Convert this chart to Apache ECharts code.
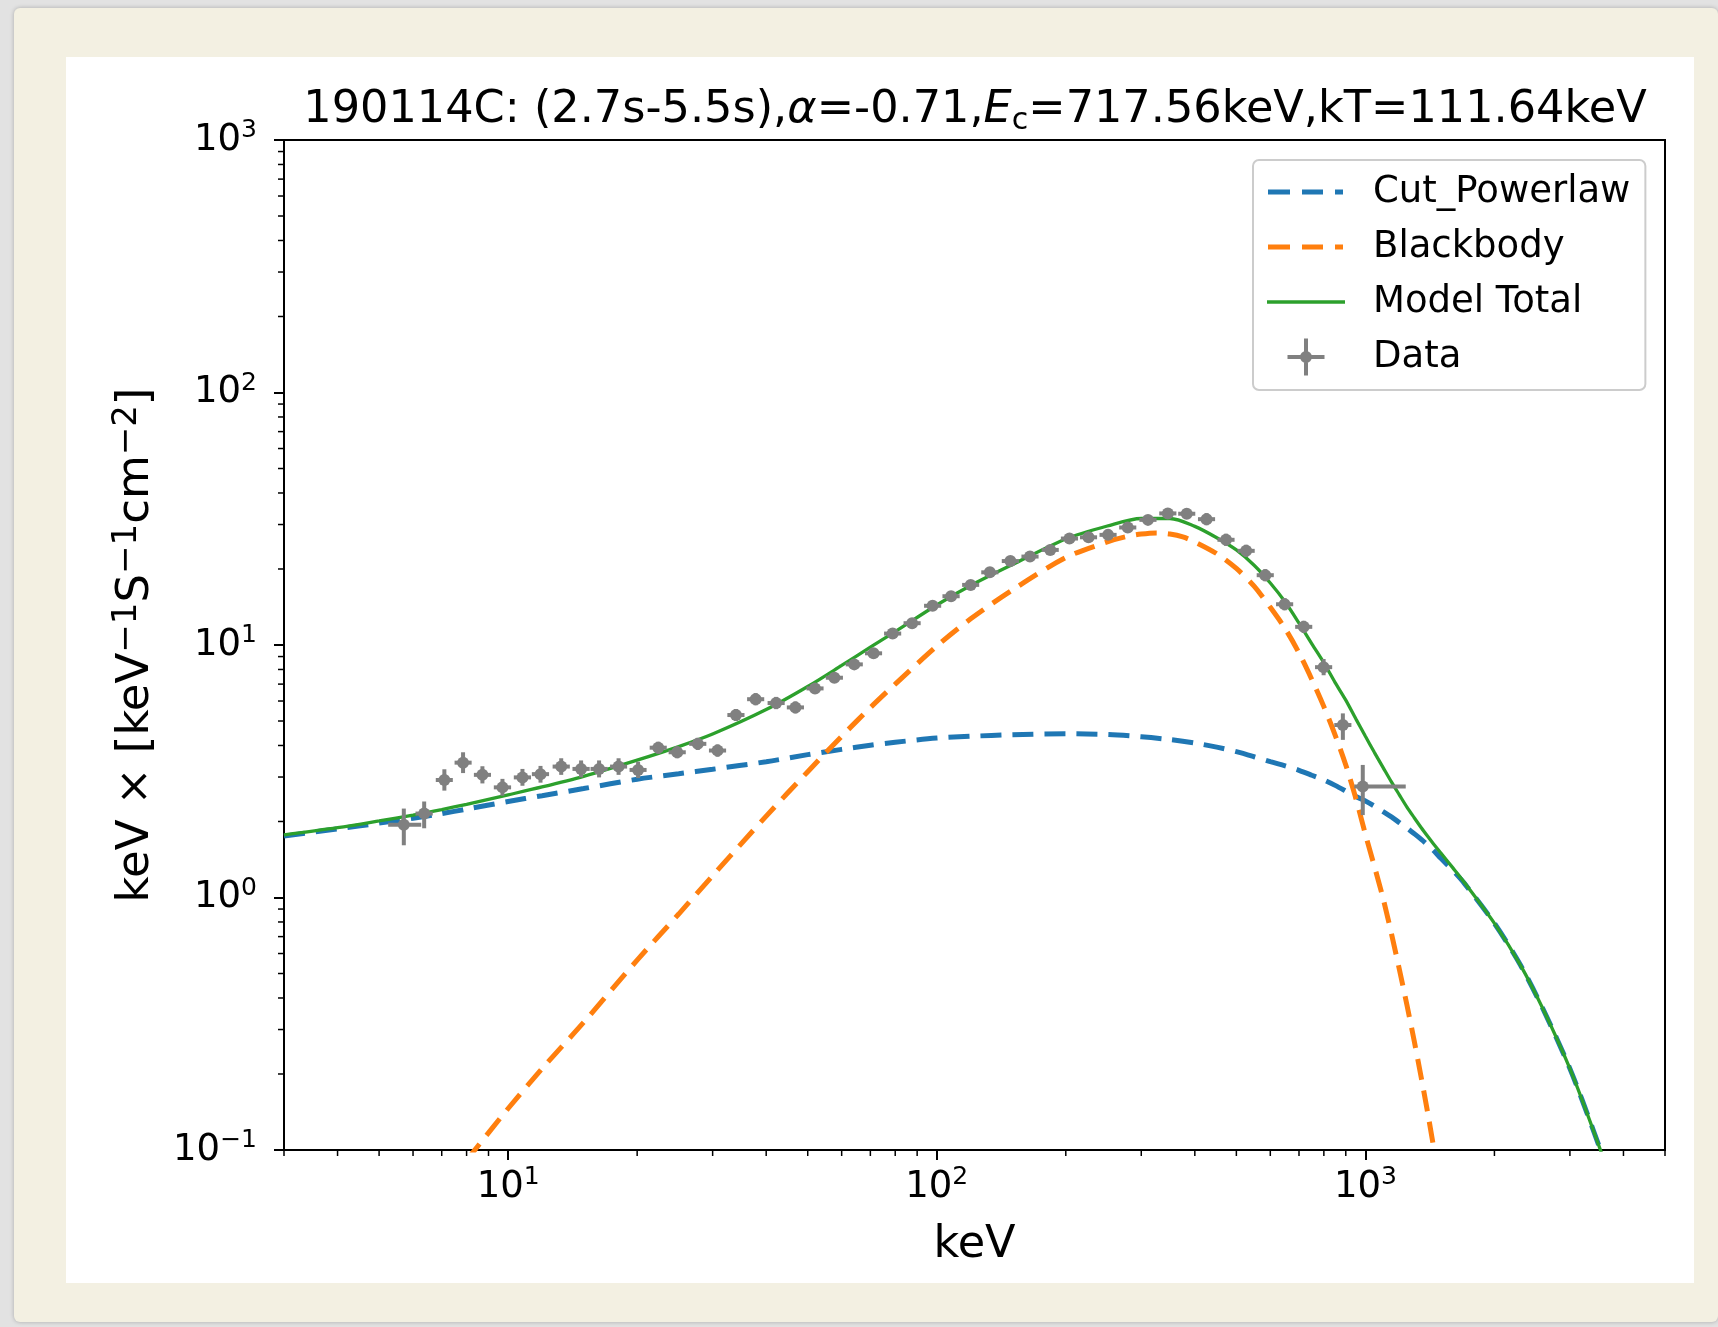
<!DOCTYPE html>
<html>
<head>
<meta charset="utf-8">
<script src="https://cdn.jsdelivr.net/npm/echarts@6/dist/echarts.min.js"></script>
<style>
html,body{margin:0;padding:0;width:1718px;height:1327px;overflow:hidden;background:#e2e2e2;}
#card{position:absolute;left:14px;top:8px;width:1704px;height:1314px;background:#f3f0e2;border-radius:6px;box-shadow:0 0 4px rgba(0,0,0,0.25);}
#panel{position:absolute;left:66px;top:57px;width:1628px;height:1226px;background:#ffffff;}
#chart{position:absolute;left:0;top:0;width:1718px;height:1327px;}
</style>
</head>
<body>
<div id="card"></div>
<div id="panel"></div>
<div id="chart"></div>
<script>
// ---- Data points (keV, keV^2 N(E)) with error ranges ----
const energy = [5.71, 6.37, 7.10, 7.85, 8.71, 9.70, 10.8, 11.9, 13.3, 14.8, 16.3, 18.1, 20.1, 22.4, 24.8, 27.7, 30.8, 34.0, 37.8, 42.2, 46.8, 52.0, 57.7, 64.2, 71.2, 78.9, 87.6, 97.8, 108, 120, 133, 148.5, 165, 184, 204, 226, 251, 279, 311, 346, 383, 426, 473, 527, 584, 648, 718, 799, 886, 986];
const flux = [1.94, 2.15, 2.92, 3.42, 3.06, 2.73, 2.99, 3.08, 3.30, 3.23, 3.23, 3.30, 3.20, 3.92, 3.76, 4.06, 3.82, 5.28, 6.10, 5.89, 5.66, 6.73, 7.42, 8.38, 9.27, 11.1, 12.2, 14.3, 15.6, 17.3, 19.4, 21.5, 22.4, 23.8, 26.4, 26.7, 27.3, 29.2, 31.3, 33.2, 33.1, 31.5, 26.1, 23.6, 18.9, 14.5, 11.8, 8.17, 4.82, 2.75];
const energyLo = [5.25, 6.08, 6.78, 7.50, 8.32, 9.26, 10.31, 11.36, 12.70, 14.13, 15.57, 17.29, 19.20, 21.39, 23.68, 26.45, 29.41, 32.47, 36.10, 40.30, 44.69, 49.66, 55.10, 61.31, 68.00, 75.35, 83.66, 93.40, 103.1, 114.6, 127.0, 141.8, 157.6, 175.7, 194.8, 215.8, 239.7, 266.4, 297.0, 330.4, 365.8, 406.8, 451.7, 503.3, 557.7, 618.8, 685.7, 763.0, 846.1, 942];
const energyHi = [6.27, 6.67, 7.43, 8.22, 9.12, 10.16, 11.31, 12.46, 13.93, 15.50, 17.07, 18.95, 21.04, 23.45, 25.97, 29.00, 32.25, 35.60, 39.58, 44.18, 49.00, 54.44, 60.41, 67.22, 74.55, 82.61, 91.72, 102.4, 113.1, 125.6, 139.3, 155.5, 172.8, 192.6, 213.6, 236.6, 262.8, 292.1, 325.6, 362.3, 401.0, 446.0, 495.2, 551.8, 611.4, 678.5, 751.7, 836.6, 927.6, 1242];
const fluxLo = [1.61, 1.88, 2.65, 3.11, 2.83, 2.53, 2.77, 2.85, 3.06, 2.99, 2.99, 3.06, 2.97, 3.71, 3.56, 3.84, 3.61, 5.00, 5.77, 5.57, 5.36, 6.48, 7.15, 8.07, 8.93, 10.69, 11.75, 13.78, 15.03, 16.67, 18.69, 20.71, 21.58, 22.93, 25.43, 25.72, 26.30, 28.13, 30.15, 31.98, 31.89, 29.80, 24.69, 22.33, 17.88, 13.72, 11.16, 7.59, 4.21, 2.12];
const fluxHi = [2.25, 2.40, 3.22, 3.76, 3.31, 2.95, 3.23, 3.32, 3.56, 3.49, 3.49, 3.56, 3.45, 4.14, 3.97, 4.29, 4.04, 5.58, 6.45, 6.23, 5.98, 6.99, 7.70, 8.70, 9.62, 11.52, 12.66, 14.84, 16.19, 17.96, 20.14, 22.32, 23.25, 24.70, 27.40, 27.71, 28.34, 30.31, 32.49, 34.46, 34.36, 33.30, 27.59, 24.95, 19.98, 15.33, 12.47, 8.80, 5.36, 3.35];

// ---- Model curves ----
const modelEnergy = [3, 4, 5, 6, 7, 8, 10, 12, 15, 20, 25, 30, 40, 50, 60, 70, 80, 100, 120, 150, 200, 250, 300, 350, 400, 450, 500, 550, 600, 650, 700, 750, 800, 850, 900, 950, 1000, 1050, 1100, 1150, 1200, 1250, 1300, 1350, 1400, 1450, 1500, 1600, 1700, 2000, 2300, 2600, 3000, 3400, 3800, 4200];
const cplFlux = [1.75, 1.87, 1.97, 2.06, 2.15, 2.24, 2.40, 2.53, 2.70, 2.94, 3.09, 3.22, 3.45, 3.68, 3.86, 4.01, 4.12, 4.28, 4.35, 4.41, 4.45, 4.42, 4.33, 4.22, 4.09, 3.94, 3.78, 3.61, 3.45, 3.32, 3.19, 3.05, 2.92, 2.78, 2.64, 2.51, 2.41, 2.30, 2.19, 2.085, 1.98, 1.885, 1.79, 1.70, 1.61, 1.52, 1.43, 1.28, 1.14, 0.79, 0.54, 0.36, 0.21, 0.12, 0.07, 0.04];
const totalFlux = [1.77, 1.89, 2.01, 2.12, 2.23, 2.34, 2.55, 2.74, 3.02, 3.50, 3.96, 4.44, 5.55, 6.85, 8.30, 9.80, 11.3, 14.4, 17.2, 20.8, 26.3, 29.6, 31.7, 31.7, 29.5, 26.6, 23.8, 20.7, 17.6, 14.8, 12.2, 10.1, 8.5, 7.1, 6.05, 5.1, 4.35, 3.75, 3.27, 2.87, 2.55, 2.28, 2.07, 1.89, 1.74, 1.61, 1.50, 1.31, 1.15, 0.79, 0.54, 0.36, 0.21, 0.12, 0.07, 0.04];
const bbEnergy = [8, 10, 12, 15, 20, 25, 30, 40, 50, 60, 70, 80, 100, 120, 150, 200, 250, 275, 300, 325, 350, 375, 400, 450, 500, 550, 600, 650, 700, 750, 800, 850, 900, 950, 1000, 1100, 1200, 1300, 1400, 1500];
const bbFlux = [0.091, 0.146, 0.21, 0.32, 0.565, 0.86, 1.22, 2.10, 3.15, 4.35, 5.65, 7.0, 9.9, 12.7, 16.5, 22.2, 25.6, 26.8, 27.5, 27.8, 27.5, 26.8, 25.6, 23.0, 20.1, 17.1, 14.1, 11.6, 9.3, 7.3, 5.7, 4.4, 3.35, 2.47, 1.78, 0.99, 0.52, 0.27, 0.138, 0.069];

// ---- Minor tick positions ----
const xMinorTicks = [3, 4, 5, 6, 7, 8, 9, 20, 30, 40, 50, 60, 70, 80, 90, 200, 300, 400, 500, 600, 700, 800, 900, 2000, 3000, 4000, 5000];
const yMinorTicks = [0.2, 0.3, 0.4, 0.5, 0.6, 0.7, 0.8, 0.9, 2, 3, 4, 5, 6, 7, 8, 9, 20, 30, 40, 50, 60, 70, 80, 90, 200, 300, 400, 500, 600, 700, 800, 900];

const FONT = 'DejaVu Sans';

function powLabel(v) {
  const e = Math.log10(v);
  const r = Math.round(e);
  if (Math.abs(e - r) > 1e-6) return '';
  return '{b|10}{s|' + (r < 0 ? '\u2212' + (-r) : r) + '}';
}
const tickRich = {
  b: {fontFamily: FONT, fontSize: 37, lineHeight: 44, color: '#000'},
  s: {fontFamily: FONT, fontSize: 25, lineHeight: 29, verticalAlign: 'top', color: '#000'}
};

const DASH_ICON = 'path://M0,0 M78,37 M1,16 L23,16 L23,21 L1,21 Z M35,16 L56,16 L56,21 L35,21 Z M68,16 L76,16 L76,21 L68,21 Z';
const SOLID_ICON = 'path://M0,0 M78,37 M0,16.8 L78,16.8 L78,20.2 L0,20.2 Z';
const CROSS_ICON = 'path://M0,0 M78,37 M20.5,16.5 L57.5,16.5 L57.5,20.5 L20.5,20.5 Z M37,0 L41,0 L41,37 L37,37 Z M45,18.5 A6,6 0 1 1 33,18.5 A6,6 0 1 1 45,18.5 Z';

const chart = echarts.init(document.getElementById('chart'), null, {renderer: 'canvas'});

const option = {
  animation: false,
  backgroundColor: 'transparent',
  title: {
    text: '190114C: (2.7s-5.5s),{i|\u03b1}=-0.71,{i|E}{sub|c}=717.56keV,kT=111.64keV',
    left: 975, top: 84, textAlign: 'center', padding: 0,
    textStyle: {
      fontFamily: FONT, fontSize: 44.6, fontWeight: 'normal', color: '#000', lineHeight: 52,
      rich: {
        i: {fontFamily: FONT, fontSize: 44.6, fontStyle: 'italic', color: '#000', lineHeight: 52},
        sub: {fontFamily: FONT, fontSize: 30, color: '#000', verticalAlign: 'bottom', lineHeight: 28}
      }
    }
  },
  grid: {
    left: 284, right: 53, top: 140, bottom: 177,
    show: true, borderColor: '#000', borderWidth: 2, backgroundColor: 'transparent',
    containLabel: false, outerBoundsMode: 'none'
  },
  legend: {
    orient: 'vertical', left: 1253, top: 160,
    padding: [12, 15, 13, 14], itemGap: 15, itemWidth: 78, itemHeight: 37,
    backgroundColor: 'rgba(255,255,255,0.85)', borderColor: '#cccccc', borderWidth: 2, borderRadius: 6,
    selectedMode: false,
    textStyle: {fontFamily: FONT, fontSize: 37, color: '#000', lineHeight: 40, padding: [0, 0, 0, 23]},
    data: [
      {name: 'Cut_Powerlaw', icon: DASH_ICON, itemStyle: {color: '#1f77b4', borderWidth: 0}},
      {name: 'Blackbody', icon: DASH_ICON, itemStyle: {color: '#ff7f0e', borderWidth: 0}},
      {name: 'Model Total', icon: SOLID_ICON, itemStyle: {color: '#2ca02c', borderWidth: 0}},
      {name: 'Data', icon: CROSS_ICON, itemStyle: {color: '#808080', borderWidth: 0}}
    ]
  },
  xAxis: {
    type: 'log', logBase: 10, min: 3, max: 5000,
    name: 'keV', nameLocation: 'middle', nameGap: 69,
    nameTextStyle: {fontFamily: FONT, fontSize: 44.6, color: '#000', lineHeight: 52},
    axisLine: {show: false},
    splitLine: {show: false},
    axisTick: {show: true, length: 10, lineStyle: {color: '#000', width: 2}},
    axisLabel: {margin: 15, formatter: powLabel, rich: tickRich, showMinLabel: false, showMaxLabel: false}
  },
  yAxis: {
    type: 'log', logBase: 10, min: 0.1, max: 1000,
    name: 'keV \u00d7 [keV{s|\u22121}S{s|\u22121}cm{s|\u22122}]',
    nameLocation: 'middle', nameGap: 120, nameRotate: 90,
    nameTextStyle: {
      fontFamily: FONT, fontSize: 45, color: '#000', lineHeight: 52,
      rich: {s: {fontFamily: FONT, fontSize: 34, color: '#000', verticalAlign: 'top', lineHeight: 33}}
    },
    axisLine: {show: false},
    splitLine: {show: false},
    axisTick: {show: true, length: 10, lineStyle: {color: '#000', width: 2}},
    axisLabel: {margin: 27, formatter: powLabel, rich: tickRich}
  },
  series: [
    {
      name: 'Cut_Powerlaw', type: 'line', symbol: 'none', smooth: 0.3, z: 2,
      data: modelEnergy.map((e, i) => [e, cplFlux[i]]),
      itemStyle: {color: '#1f77b4'},
      lineStyle: {color: '#1f77b4', width: 5, type: [21, 11]}
    },
    {
      name: 'Blackbody', type: 'line', symbol: 'none', smooth: 0.3, z: 2,
      data: bbEnergy.map((e, i) => [e, bbFlux[i]]),
      itemStyle: {color: '#ff7f0e'},
      lineStyle: {color: '#ff7f0e', width: 5, type: [21, 11]}
    },
    {
      name: 'Model Total', type: 'line', symbol: 'none', smooth: 0.3, z: 3,
      data: modelEnergy.map((e, i) => [e, totalFlux[i]]),
      itemStyle: {color: '#2ca02c'},
      lineStyle: {color: '#2ca02c', width: 3.3}
    },
    {
      name: 'Data', type: 'custom', z: 4, clip: false,
      itemStyle: {color: '#808080'},
      encode: {x: 0, y: 1},
      data: energy.map((e, i) => [e, flux[i], energyLo[i], energyHi[i], fluxLo[i], fluxHi[i]]),
      renderItem: function (params, api) {
        const c = api.coord([api.value(0), api.value(1)]);
        const xl = api.coord([api.value(2), api.value(1)]);
        const xh = api.coord([api.value(3), api.value(1)]);
        const yl = api.coord([api.value(0), api.value(4)]);
        const yh = api.coord([api.value(0), api.value(5)]);
        const st = {stroke: '#808080', lineWidth: 4, fill: null};
        return {
          type: 'group',
          children: [
            {type: 'line', shape: {x1: xl[0], y1: c[1], x2: xh[0], y2: c[1]}, style: st},
            {type: 'line', shape: {x1: c[0], y1: yl[1], x2: c[0], y2: yh[1]}, style: st},
            {type: 'circle', shape: {cx: c[0], cy: c[1], r: 6}, style: {fill: '#808080'}}
          ]
        };
      }
    },
    {
      name: 'xMinor', type: 'custom', silent: true, clip: false, z: 5,
      encode: {x: 0, y: 1},
      data: xMinorTicks.map(v => [v, 0.1]),
      renderItem: function (params, api) {
        const p = api.coord([api.value(0), api.value(1)]);
        return {type: 'line', shape: {x1: p[0], y1: p[1], x2: p[0], y2: p[1] + 6}, style: {stroke: '#000', lineWidth: 1.5}};
      }
    },
    {
      name: 'yMinor', type: 'custom', silent: true, clip: false, z: 5,
      encode: {x: 0, y: 1},
      data: yMinorTicks.map(v => [3, v]),
      renderItem: function (params, api) {
        const p = api.coord([api.value(0), api.value(1)]);
        return {type: 'line', shape: {x1: p[0] - 6, y1: p[1], x2: p[0], y2: p[1]}, style: {stroke: '#000', lineWidth: 1.5}};
      }
    }
  ]
};
chart.setOption(option);
</script>
</body>
</html>
